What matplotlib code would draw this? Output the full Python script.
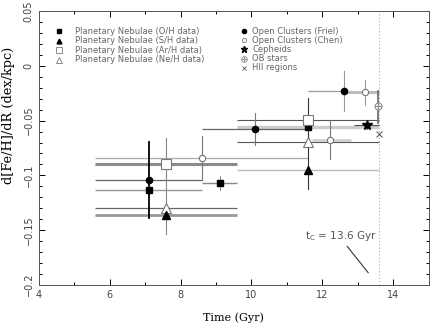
import numpy as np
import matplotlib
matplotlib.use("Agg")
import matplotlib.pyplot as plt

# --- data: time (Gyr) vs d[Fe/H]/dR (dex/kpc) ---
# each point: marker position, time interval (horizontal bar), gradient range (vertical bar)
pn_oh_t = [7.1, 9.1, 11.6]
pn_oh_g = [-0.113, -0.107, -0.056]
pn_oh_tlo = [5.6, 8.6, 9.6]
pn_oh_thi = [8.6, 9.6, 13.6]
pn_oh_glo = [np.nan, -0.113, np.nan]
pn_oh_ghi = [np.nan, -0.101, np.nan]

pn_sh_t = [7.6, 11.6]
pn_sh_g = [-0.136, -0.095]
pn_sh_tlo = [5.6, 9.6]
pn_sh_thi = [9.6, 13.6]
pn_sh_glo = [-0.154, -0.1125]
pn_sh_ghi = [-0.066, -0.029]

pn_ar_t = [7.6, 11.6]
pn_ar_g = [-0.0896, -0.0497]
pn_ar_tlo = [5.6, 9.6]
pn_ar_thi = [9.6, 13.6]

pn_ne_t = [7.6, 11.6]
pn_ne_g = [-0.130, -0.0695]
pn_ne_tlo = [5.6, 9.6]
pn_ne_thi = [9.6, 13.6]

oc_friel_t = [7.1, 10.1, 12.6]
oc_friel_g = [-0.104, -0.058, -0.023]
oc_friel_tlo = [5.6, 8.6, 11.6]
oc_friel_thi = [8.6, 11.6, 12.6]
oc_friel_glo = [-0.139, -0.072, -0.0415]
oc_friel_ghi = [-0.0695, -0.043, -0.005]

oc_chen_t = [8.6, 12.2, 13.2]
oc_chen_g = [-0.084, -0.0674, -0.024]
oc_chen_tlo = [5.6, 11.7, 12.6]
oc_chen_thi = [11.6, 12.8, 13.6]
oc_chen_glo = [-0.104, -0.085, -0.0354]
oc_chen_ghi = [-0.064, -0.049, -0.0125]

ceph_t = [13.25]
ceph_g = [-0.0543]
ceph_tlo = [12.9]
ceph_thi = [13.6]
ceph_glo = [-0.058]
ceph_ghi = [-0.050]

ob_t = [13.58]
ob_g = [-0.037]
ob_glo = [-0.052]
ob_ghi = [-0.023]

hii_t = [13.6]
hii_g = [-0.062]

t_c = 13.6

fig = plt.figure(figsize=(4.36, 3.29), dpi=100)
ax = fig.add_axes([0.0888, 0.1347, 0.8947, 0.831])


def hbars(tlo, thi, g, colors, widths):
    for a, b, y, c, w in zip(tlo, thi, g, colors, widths):
        ax.plot([a, b], [y, y], color=c, lw=w, solid_capstyle="butt", zorder=2)


def vbars(t, glo, ghi, colors, widths):
    for x, a, b, c, w in zip(t, glo, ghi, colors, widths):
        if not np.isnan(a):
            ax.plot([x, x], [a, b], color=c, lw=w, zorder=2)


# horizontal time intervals
hbars(pn_oh_tlo, pn_oh_thi, pn_oh_g, ["#999999", "#888888", "#cccccc"], [1.0, 1.0, 2.4])
hbars(pn_sh_tlo, pn_sh_thi, pn_sh_g, ["#999999", "#bbbbbb"], [2.0, 1.0])
hbars(pn_ar_tlo, pn_ar_thi, pn_ar_g, ["#8c8c8c", "#555555"], [2.2, 0.8])
hbars(pn_ne_tlo, pn_ne_thi, pn_ne_g, ["#666666", "#555555"], [0.9, 0.8])
hbars(oc_friel_tlo, oc_friel_thi, oc_friel_g, ["#666666", "#666666", "#999999"], [0.9, 0.9, 0.9])
hbars(oc_chen_tlo, oc_chen_thi, oc_chen_g, ["#aaaaaa", "#cccccc", "#bbbbbb"], [0.9, 1.8, 2.2])
hbars(ceph_tlo, ceph_thi, ceph_g, ["#555555"], [0.8])

# vertical gradient ranges
vbars(pn_oh_t, pn_oh_glo, pn_oh_ghi, ["#888888"] * 3, [0.7] * 3)
vbars(pn_sh_t, pn_sh_glo, pn_sh_ghi, ["#888888", "#333333"], [0.8, 0.8])
vbars(oc_friel_t, oc_friel_glo, oc_friel_ghi, ["#000000", "#777777", "#999999"], [1.3, 0.8, 0.8])
vbars(oc_chen_t, oc_chen_glo, oc_chen_ghi, ["#777777", "#777777", "#999999"], [0.8, 0.8, 0.8])
vbars(ceph_t, ceph_glo, ceph_ghi, ["#555555"], [0.7])
vbars(ob_t, ob_glo, ob_ghi, ["#666666"], [1.2])

# t_C marker line
ax.axvline(t_c, color="#aaaaaa", ls=(0, (1, 2)), lw=0.8, zorder=1)

# markers
ax.plot(pn_oh_t, pn_oh_g, "s", color="black", ms=4.5, ls="none", zorder=4)
ax.plot(pn_sh_t, pn_sh_g, "^", color="black", ms=6, ls="none", zorder=4)
ax.plot(pn_ar_t, pn_ar_g, "s", mfc="white", mec="#777777", mew=0.8, ms=7, ls="none", zorder=4)
ax.plot(pn_ne_t, pn_ne_g, "^", mfc="white", mec="#777777", mew=0.8, ms=7, ls="none", zorder=3)
ax.plot(oc_friel_t, oc_friel_g, "o", color="black", ms=4.5, ls="none", zorder=4)
ax.plot(oc_chen_t, oc_chen_g, "o", mfc="white", mec="#777777", mew=0.8, ms=4.5, ls="none", zorder=4)
ax.plot(ceph_t, ceph_g, "*", color="black", ms=7, ls="none", zorder=4)
ax.plot(ob_t, ob_g, "o", mfc="white", mec="#888888", mew=0.8, ms=5, ls="none", zorder=4)
ax.plot(ob_t, ob_g, "+", color="#888888", mew=0.8, ms=5, ls="none", zorder=5)
ax.plot(hii_t, hii_g, "x", color="#555555", mew=0.7, ms=5, ls="none", zorder=4)

# annotation
ax.text(11.5, -0.158, r"t$_{\rm C}$ = 13.6 Gyr", fontsize=7.5, color="#555555")
ax.plot([12.70, 13.29], [-0.165, -0.189], color="#333333", lw=0.8)

# legend drawn by hand (two columns, no box)
tr = ax.transAxes
left_rows = [0.927, 0.892, 0.857, 0.822]
right_rows = [0.927, 0.894, 0.861, 0.826, 0.793]
left_items = [
    ("s", dict(color="black", ms=3), "Planetary Nebulae (O/H data)"),
    ("^", dict(color="black", ms=3.5), "Planetary Nebulae (S/H data)"),
    ("s", dict(mfc="white", mec="#777777", mew=0.6, ms=4), "Planetary Nebulae (Ar/H data)"),
    ("^", dict(mfc="white", mec="#777777", mew=0.6, ms=4.5), "Planetary Nebulae (Ne/H data)"),
]
right_items = [
    ("o", dict(color="black", ms=3), "Open Clusters (Friel)"),
    ("o", dict(mfc="white", mec="#777777", mew=0.6, ms=3), "Open Clusters (Chen)"),
    ("*", dict(color="black", ms=5), "Cepheids"),
    ("o", dict(mfc="white", mec="#888888", mew=0.6, ms=4), "OB stars"),
    ("x", dict(color="#555555", mew=0.6, ms=3.5), "HII regions"),
]
for (m, kw, lab), yy in zip(left_items, left_rows):
    ax.plot([0.052], [yy], m, transform=tr, ls="none", clip_on=False, **kw)
    ax.text(0.093, yy, lab, transform=tr, fontsize=6, color="#666666", va="center")
for (m, kw, lab), yy in zip(right_items, right_rows):
    ax.plot([0.527], [yy], m, transform=tr, ls="none", clip_on=False, **kw)
    if lab == "OB stars":
        ax.plot([0.527], [yy], "+", transform=tr, color="#888888", mew=0.6, ms=4)
    ax.text(0.548, yy, lab, transform=tr, fontsize=6, color="#666666", va="center")

# axes styling
ax.set_xlim(4, 15)
ax.set_ylim(-0.2, 0.05)
ax.set_xticks(np.arange(4, 15, 2))
ax.set_xticks(np.arange(4, 16, 1), minor=True)
ax.set_yticks([-0.2, -0.15, -0.1, -0.05, 0, 0.05])
ax.set_yticks(np.arange(-0.2, 0.051, 0.01), minor=True)
ax.set_yticklabels(["\u22120.2", "\u22120.15", "\u22120.1", "\u22120.05", "0", "0.05"],
                   rotation=90, va="center")
ax.tick_params(which="both", direction="in", top=True, right=True, labelsize=7,
               labelcolor="#444444", width=0.7)
ax.tick_params(which="major", length=4)
ax.tick_params(which="minor", length=2)
for s in ax.spines.values():
    s.set_linewidth(0.7)
    s.set_color("#555555")

ax.set_xlabel("Time (Gyr)", family="DejaVu Serif", fontsize=8, labelpad=9)
ax.set_ylabel("d[Fe/H]/dR (dex/kpc)", family="DejaVu Serif", fontsize=9.3)
ax.yaxis.set_label_coords(-0.061, 0.621)

plt.savefig("out.png", dpi=100)
